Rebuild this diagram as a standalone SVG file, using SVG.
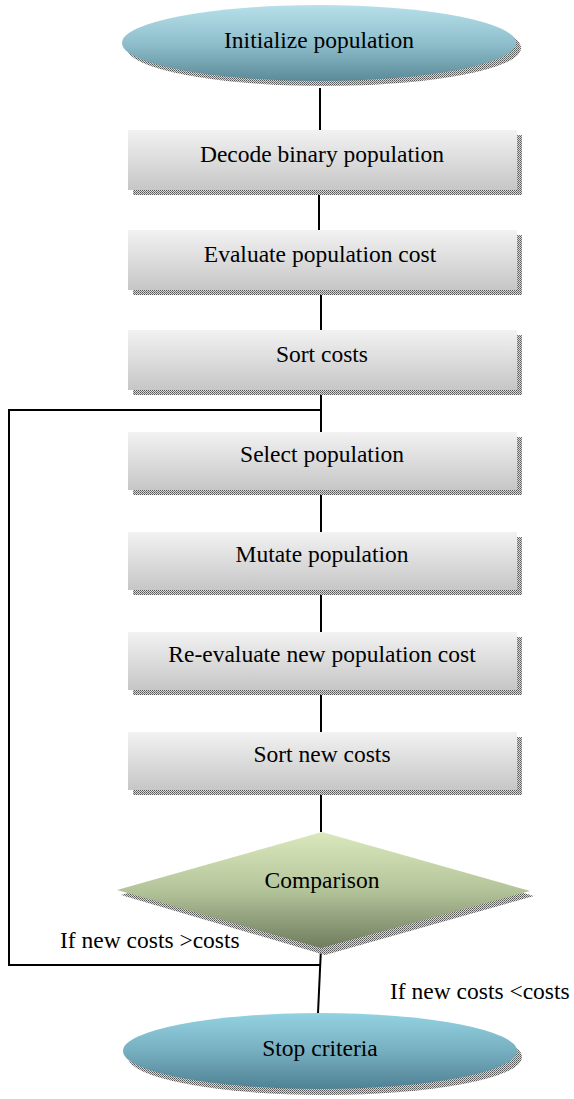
<svg xmlns="http://www.w3.org/2000/svg" width="574" height="1099" viewBox="0 0 574 1099">
<style>
.t{font-family:"Liberation Serif","Times New Roman",serif;font-size:23.5px;fill:#000;text-anchor:middle}
.l{font-family:"Liberation Serif","Times New Roman",serif;font-size:23.5px;fill:#000}
.c{fill:none;stroke:#000;stroke-width:2}
</style>
<defs>
<pattern id="sh" width="2" height="2" patternUnits="userSpaceOnUse">
<rect width="2" height="2" fill="#d8d8d8"/>
<rect width="1" height="1" fill="#555"/>
<rect x="1" y="1" width="1" height="1" fill="#777"/>
</pattern>
<linearGradient id="gb" x1="0" y1="0" x2="0" y2="1">
<stop offset="0" stop-color="#b6e0ea"/>
<stop offset="0.5" stop-color="#8fbfcc"/>
<stop offset="1" stop-color="#5c8a98"/>
</linearGradient>
<linearGradient id="gb2" x1="0" y1="0" x2="0" y2="1">
<stop offset="0" stop-color="#93d2e2"/>
<stop offset="0.5" stop-color="#76afc0"/>
<stop offset="1" stop-color="#4f8194"/>
</linearGradient>
<linearGradient id="gr" x1="0" y1="0" x2="0" y2="1">
<stop offset="0" stop-color="#f2f2f2"/>
<stop offset="1" stop-color="#c6c6c6"/>
</linearGradient>
<linearGradient id="gd" x1="0" y1="0" x2="0" y2="1">
<stop offset="0" stop-color="#dbe8bd"/>
<stop offset="0.5" stop-color="#b4c49a"/>
<stop offset="1" stop-color="#6f7d5f"/>
</linearGradient>
</defs>
<g id="connectors">
<line class="c" x1="320" y1="88" x2="320" y2="130"/>
<line class="c" x1="319" y1="190" x2="319" y2="230"/>
<line class="c" x1="321" y1="290" x2="321" y2="330"/>
<line class="c" x1="321" y1="390" x2="321" y2="432"/>
<line class="c" x1="321" y1="490" x2="321" y2="532"/>
<line class="c" x1="321" y1="590" x2="321" y2="632"/>
<line class="c" x1="321" y1="690" x2="321" y2="732"/>
<line class="c" x1="321" y1="790" x2="321" y2="832"/>
<polyline class="c" points="321,410 9,410 9,965 321,965"/>
<line class="c" x1="321" y1="948" x2="318" y2="1013"/>
</g>
<g id="n1">
<ellipse cx="324" cy="48" rx="197" ry="38" fill="url(#sh)"/>
<ellipse cx="319" cy="43" rx="197" ry="38" fill="url(#gb)"/>
<text class="t" x="319" y="48">Initialize population</text>
</g>
<g id="n2">
<rect x="133" y="135" width="389" height="60" fill="url(#sh)"/>
<rect x="128" y="130" width="389" height="60" fill="url(#gr)"/>
<text class="t" x="322" y="162">Decode binary population</text>
</g>
<g id="n3">
<rect x="133" y="235" width="389" height="60" fill="url(#sh)"/>
<rect x="128" y="230" width="389" height="60" fill="url(#gr)"/>
<text class="t" x="320" y="262">Evaluate population cost</text>
</g>
<g id="n4">
<rect x="133" y="335" width="389" height="60" fill="url(#sh)"/>
<rect x="128" y="330" width="389" height="60" fill="url(#gr)"/>
<text class="t" x="322" y="362">Sort costs</text>
</g>
<g id="n5">
<rect x="133" y="437" width="389" height="58" fill="url(#sh)"/>
<rect x="128" y="432" width="389" height="58" fill="url(#gr)"/>
<text class="t" x="322" y="462">Select population</text>
</g>
<g id="n6">
<rect x="133" y="537" width="389" height="58" fill="url(#sh)"/>
<rect x="128" y="532" width="389" height="58" fill="url(#gr)"/>
<text class="t" x="322" y="562">Mutate population</text>
</g>
<g id="n7">
<rect x="133" y="637" width="389" height="58" fill="url(#sh)"/>
<rect x="128" y="632" width="389" height="58" fill="url(#gr)"/>
<text class="t" x="322" y="662">Re-evaluate new population cost</text>
</g>
<g id="n8">
<rect x="133" y="737" width="389" height="58" fill="url(#sh)"/>
<rect x="128" y="732" width="389" height="58" fill="url(#gr)"/>
<text class="t" x="322" y="762">Sort new costs</text>
</g>
<g id="n9">
<polygon points="326,836 534,896 325,955 121,895" fill="url(#sh)"/>
<polygon points="322,832 530,891 321,948 117,890" fill="url(#gd)"/>
<text class="t" x="322" y="888">Comparison</text>
</g>
<g id="n10">
<ellipse cx="325" cy="1057" rx="197" ry="38" fill="url(#sh)"/>
<ellipse cx="320" cy="1051" rx="197" ry="38" fill="url(#gb2)"/>
<text class="t" x="320" y="1056">Stop criteria</text>
</g>
<text class="l" x="60" y="948">If new costs &gt;costs</text>
<text class="l" x="390" y="999">If new costs &lt;costs</text>
</svg>
